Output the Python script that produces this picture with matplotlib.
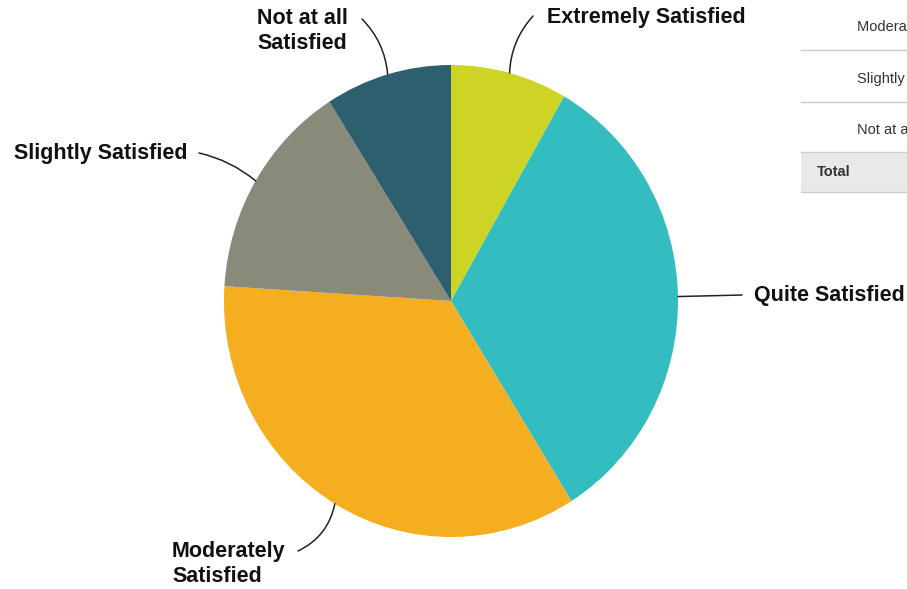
import matplotlib
matplotlib.use("Agg")
import matplotlib.pyplot as plt
import numpy as np
from matplotlib.patches import Rectangle
from matplotlib.lines import Line2D

categories = ["Extremely Satisfied", "Quite Satisfied", "Moderately Satisfied",
              "Slightly Satisfied", "Not at all Satisfied"]
values = [8.3, 32.8, 34.9, 15.0, 9.0]
colors = ["#CDD425", "#33BDC0", "#F5AE1F", "#8A8A7A", "#2E5F6E"]
label_texts = ["Extremely Satisfied", "Quite Satisfied", "Moderately\nSatisfied",
               "Slightly Satisfied", "Not at all\nSatisfied"]
table_rows = ["Moderately Satisfied", "Slightly Satisfied", "Not at all Satisfied"]
table_total = "Total"

W, H = 907, 589
fig = plt.figure(figsize=(W / 100, H / 100), dpi=100)
plt.rcParams['font.family'] = ['Liberation Sans', 'DejaVu Sans']

def fx(x):
    return x / W

def fy(y):
    return 1 - y / H

ax = fig.add_axes([fx(224), fy(537), 454 / W, 472 / H])
wedges, _ = ax.pie(values, colors=colors, startangle=90, counterclock=False,
                   radius=1, wedgeprops=dict(linewidth=0))
ax.set_xlim(-1, 1)
ax.set_ylim(-1, 1)
ax.set_aspect('auto')
ax.axis('off')

# label text placement (image pixels), alignment and connector end points
label_pos = [
    dict(x=547, y=18, ha='left', end=(533, 16), rad=0.18),
    dict(x=754, y=296, ha='left', end=(742, 295), rad=0.0),
    dict(x=172, y=564, ha='left', end=(298, 551), rad=0.25),
    dict(x=188, y=153, ha='right', end=(199, 153), rad=-0.12),
    dict(x=257, y=31, ha='left', end=(362, 19), rad=-0.18),
]

for w, txt, lp in zip(wedges, label_texts, label_pos):
    ang = np.deg2rad((w.theta1 + w.theta2) / 2)
    xe, ye = np.cos(ang), np.sin(ang)
    fig.text(fx(lp['x']), fy(lp['y']), txt, ha=lp['ha'], va='center',
             fontsize=15.5, fontweight='bold', color='#111111', linespacing=1.2)
    ax.annotate('', xy=(xe, ye), xycoords='data',
                xytext=(lp['end'][0], H - lp['end'][1]), textcoords='figure pixels',
                arrowprops=dict(arrowstyle='-', color='#222222', lw=1.1,
                                shrinkA=0, shrinkB=0,
                                connectionstyle=f"arc3,rad={lp['rad']}"))

# partial table on the right
row_y = [27, 79, 130]
line_y = [50, 102]
for r, y in zip(table_rows, row_y):
    fig.text(fx(857), fy(y), r, ha='left', va='center', fontsize=10.5, color='#333333')
for y in line_y:
    fig.add_artist(Line2D([fx(801), 1], [fy(y), fy(y)], color='#cccccc', lw=1))
fig.add_artist(Rectangle((fx(801), fy(192)), 1 - fx(801), (192 - 152) / H,
                         facecolor='#e9e9e9', edgecolor='none'))
fig.add_artist(Line2D([fx(801), 1], [fy(152), fy(152)], color='#cccccc', lw=1))
fig.add_artist(Line2D([fx(801), 1], [fy(192), fy(192)], color='#cccccc', lw=1))
fig.text(fx(817), fy(172), table_total, ha='left', va='center', fontsize=10.5,
         fontweight='bold', color='#333333')

fig.savefig("out.png", dpi=100)
